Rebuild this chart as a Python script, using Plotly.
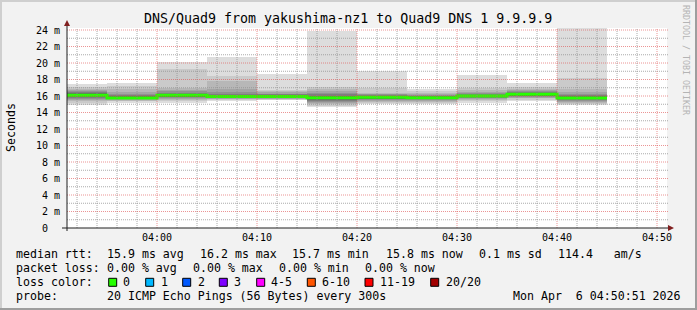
import numpy as np
import pandas as pd
import plotly.graph_objects as go

# ---------------- data ----------------
bar_starts = ["2026-04-06 03:50", "2026-04-06 03:55", "2026-04-06 04:00", "2026-04-06 04:05",
              "2026-04-06 04:10", "2026-04-06 04:15", "2026-04-06 04:20", "2026-04-06 04:25",
              "2026-04-06 04:30", "2026-04-06 04:35", "2026-04-06 04:40"]
series_end = "2026-04-06 04:45"

# 20 sorted ping RTTs (ms) per 5-minute step
pings = [
    [14.87, 15.2, 15.4, 15.55, 15.65, 15.8, 15.9, 15.98, 16.03, 16.08, 16.12, 16.18, 16.25, 16.35, 16.45, 16.55, 16.7, 16.85, 17.14, 17.45],
    [15.2, 15.35, 15.45, 15.5, 15.58, 15.62, 15.66, 15.7, 15.73, 15.75, 15.77, 15.82, 15.9, 16.0, 16.15, 16.3, 16.5, 16.8, 17.2, 17.58],
    [15.2, 15.35, 15.5, 15.65, 15.75, 15.85, 15.92, 15.98, 16.03, 16.06, 16.1, 16.15, 16.22, 16.3, 16.4, 16.55, 16.75, 17.0, 19.24, 20.12],
    [15.4, 15.5, 15.58, 15.65, 15.72, 15.78, 15.83, 15.87, 15.9, 15.92, 15.94, 15.98, 16.05, 16.15, 16.3, 16.5, 16.8, 17.8, 18.42, 20.73],
    [15.48, 15.55, 15.62, 15.68, 15.73, 15.78, 15.83, 15.87, 15.9, 15.92, 15.94, 15.98, 16.03, 16.1, 16.2, 16.3, 16.45, 16.6, 16.73, 18.63],
    [14.67, 14.8, 15.0, 15.15, 15.3, 15.45, 15.55, 15.65, 15.72, 15.78, 15.82, 15.88, 15.95, 16.05, 16.2, 16.4, 16.65, 16.9, 17.14, 23.88],
    [15.0, 15.15, 15.3, 15.45, 15.55, 15.62, 15.7, 15.75, 15.8, 15.84, 15.86, 15.9, 15.95, 16.0, 16.1, 16.2, 16.3, 16.4, 17.0, 19.03],
    [15.0, 15.1, 15.25, 15.4, 15.5, 15.58, 15.65, 15.7, 15.75, 15.79, 15.81, 15.85, 15.9, 15.95, 16.02, 16.1, 16.2, 16.35, 16.55, 16.8],
    [15.2, 15.35, 15.5, 15.6, 15.7, 15.78, 15.85, 15.9, 15.95, 15.99, 16.01, 16.05, 16.1, 16.15, 16.25, 16.35, 16.5, 16.75, 17.0, 18.5],
    [15.4, 15.55, 15.7, 15.8, 15.9, 15.98, 16.05, 16.1, 16.15, 16.19, 16.21, 16.25, 16.3, 16.38, 16.45, 16.55, 16.7, 16.9, 17.14, 17.54],
    [14.87, 15.0, 15.15, 15.3, 15.42, 15.52, 15.6, 15.66, 15.71, 15.74, 15.76, 15.8, 15.88, 15.98, 16.1, 16.25, 16.45, 16.8, 18.23, 24.29],
]

y_tick_vals = [0, 2, 4, 6, 8, 10, 12, 14, 16, 18, 20, 22, 24]
y_tick_text = ["0\u00a0\u00a0"] + [f"{v} m" for v in y_tick_vals[1:]]

title_text = "DNS/Quad9 from yakushima-nz1 to Quad9 DNS 1 9.9.9.9"
loss_labels = ["0", "1", "2", "3", "4-5", "6-10", "11-19", "20/20"]
loss_colors = ["#26ff00", "#00b8ff", "#0059ff", "#7e00ff", "#ff00ff", "#ff5500", "#ff0000", "#a10000"]

rtt_stats = ["15.9 ms avg", "16.2 ms max", "15.7 ms min", "15.8 ms now", "0.1 ms sd", "114.4   am/s"]
loss_stats = ["0.00 % avg", "0.00 % max", "0.00 % min", "0.00 % now"]
probe_text = "20 ICMP Echo Pings (56 Bytes) every 300s"
date_text = "Mon Apr\u00a0\u00a06 04:50:51 2026"

x_start, x_end = "2026-04-06 03:51", "2026-04-06 04:51"

# ---------------- geometry ----------------
W, H = 697, 310
L, R, T, B = 67, 30, 28, 82
PW, PH = W - L - R, H - T - B
Y_MAX = PH / 8.25


def px(x):
    return (x - L) / PW


def py(y):
    return (H - B - y) / PH


MONO = "DejaVu Sans Mono"

fig = go.Figure()

# smoke bands
arr = np.array(pings)
n = arr.shape[1]
half = n / 2
for i in range(int(half)):
    lo = arr[:, i]
    hi = arr[:, n - 1 - i]
    g = int(190 / half * (half - (i + 1))) + 50
    col = "#%02x%02x%02x" % (g, g, g)
    fig.add_trace(go.Bar(x=bar_starts, y=hi - lo, base=lo, width=300000, offset=0,
                         marker=dict(color=col, line=dict(width=0)),
                         hoverinfo="skip", showlegend=False))

medians = np.median(arr, axis=1)
fig.add_trace(go.Scatter(x=bar_starts + [series_end], y=list(medians) + [medians[-1]],
                         mode="lines", line=dict(color=loss_colors[0], width=3, shape="hv"),
                         hoverinfo="skip", showlegend=False))

grid_minor = "rgba(143,143,143,0.75)"
grid_major = "rgba(222,79,79,0.6)"

fig.update_layout(
    width=W, height=H,
    margin=dict(l=L, r=R, t=T, b=B, pad=0),
    paper_bgcolor="#f2f2f2", plot_bgcolor="#ffffff",
    barmode="overlay", bargap=0, showlegend=False,
    font=dict(family=MONO, size=10, color="#000000"),
    xaxis=dict(type="date", range=[x_start, x_end],
               dtick=600000, tick0="2026-04-06 04:00", tickformat="%H:%M",
               showgrid=False, showline=False, zeroline=False, ticks="", ticklabelstandoff=2,
               tickfont=dict(family=MONO, size=10)),
    yaxis=dict(range=[0, Y_MAX], tickvals=y_tick_vals, ticktext=y_tick_text,
               showgrid=False, showline=False, zeroline=False, ticks="", ticklabelstandoff=6,
               tickfont=dict(family=MONO, size=10)),
)

shapes = []
# grid (drawn above the smoke, as rrdtool does)
for t in pd.date_range("2026-04-06 03:52", "2026-04-06 04:50", freq="2min"):
    major = t.minute % 10 == 0
    shapes.append(dict(type="line", xref="x", yref="paper", x0=t, x1=t, y0=0, y1=1, layer="above",
                       line=dict(color=grid_major if major else grid_minor, width=1, dash="1px,1px")))
for v in range(1, int(Y_MAX) + 1):
    major = v % 2 == 0
    shapes.append(dict(type="line", xref="paper", yref="y", x0=0, x1=px(668), y0=v, y1=v, layer="above",
                       line=dict(color=grid_major if major else grid_minor, width=1, dash="1px,1px")))

# image border shading
shapes.append(dict(type="rect", xref="paper", yref="paper", x0=px(0), x1=px(W), y0=py(0), y1=py(2),
                   fillcolor="#cfcfcf", line=dict(width=0)))
shapes.append(dict(type="rect", xref="paper", yref="paper", x0=px(0), x1=px(2), y0=py(0), y1=py(H),
                   fillcolor="#cfcfcf", line=dict(width=0)))
shapes.append(dict(type="rect", xref="paper", yref="paper", x0=px(0), x1=px(W), y0=py(H - 2), y1=py(H),
                   fillcolor="#9e9e9e", line=dict(width=0)))
shapes.append(dict(type="rect", xref="paper", yref="paper", x0=px(W - 2), x1=px(W), y0=py(0), y1=py(H),
                   fillcolor="#9e9e9e", line=dict(width=0)))
# axes
shapes.append(dict(type="line", xref="paper", yref="paper", x0=px(62), x1=px(670), y0=py(228), y1=py(228),
                   line=dict(color="#1f1f1f", width=1)))
shapes.append(dict(type="line", xref="paper", yref="paper", x0=px(67), x1=px(67), y0=py(231), y1=py(24),
                   line=dict(color="#1f1f1f", width=1)))
# arrows
shapes.append(dict(type="path", xref="paper", yref="paper",
                   path=f"M {px(67)},{py(20)} L {px(64)},{py(26)} L {px(70)},{py(26)} Z",
                   fillcolor="#801f1f", line=dict(width=0)))
shapes.append(dict(type="path", xref="paper", yref="paper",
                   path=f"M {px(674)},{py(228)} L {px(668)},{py(225)} L {px(668)},{py(231)} Z",
                   fillcolor="#801f1f", line=dict(width=0)))

# loss colour boxes
box_x = [108.7, 145.7, 182.7, 219.3, 256.7, 307.3, 365, 430.7]
for bx, c in zip(box_x, loss_colors):
    shapes.append(dict(type="rect", xref="paper", yref="paper", x0=px(bx), x1=px(bx + 8),
                       y0=py(278.3), y1=py(286.3), fillcolor=c, line=dict(color="#000000", width=1)))
fig.update_layout(shapes=shapes)

ann = []


def text(x, y, s, size=11.6, anchor="left", color="#000000", angle=0):
    ann.append(dict(x=px(x), y=py(y), xref="paper", yref="paper", text=s, showarrow=False,
                    xanchor=anchor, yanchor="middle", textangle=angle,
                    font=dict(family=MONO, size=size, color=color), borderpad=0, borderwidth=0))


text(348, 18.5, title_text, size=13.3, anchor="center")
text(11, 128, "Seconds", size=11.6, anchor="center", angle=-90)
text(686, 60, "RRDTOOL / TOBI OETIKER", size=8.3, anchor="center", color="#b4b4b4", angle=90)

ly = [254, 267.7, 282.3, 295.7]
text(16, ly[0], "median rtt:")
for xx, s in zip([107.3, 200, 292.3, 385.7, 479.3, 558.3], rtt_stats):
    text(xx, ly[0], s.replace(" ", "\u00a0"))
text(16, ly[1], "packet loss:")
for xx, s in zip([107.3, 193.3, 279.3, 365], loss_stats):
    text(xx, ly[1], s.replace(" ", "\u00a0"))
text(16, ly[2], "loss color:")
for xx, s in zip([123.3, 160.7, 197.7, 234.3, 271, 321.7, 380, 445.7], loss_labels):
    text(xx, ly[2], s)
text(16, ly[3], "probe:")
text(107.3, ly[3], probe_text)
text(512.7, ly[3], date_text)

fig.update_layout(annotations=ann)

fig.write_html("out.html")
